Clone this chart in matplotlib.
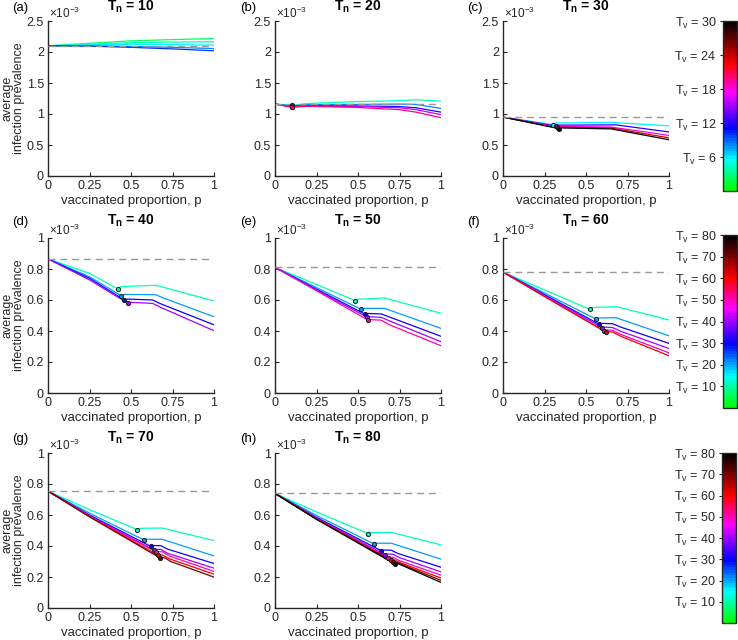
import matplotlib
matplotlib.use("Agg")
import matplotlib.pyplot as plt
from matplotlib.colors import LinearSegmentedColormap, Normalize
from matplotlib.cm import ScalarMappable
from matplotlib.ticker import FuncFormatter

plt.rcParams["font.family"] = ["Liberation Sans", "DejaVu Sans"]
plt.rcParams["mathtext.fontset"] = "custom"
plt.rcParams["mathtext.rm"] = "Liberation Sans"
plt.rcParams["mathtext.it"] = "Liberation Sans:italic"
plt.rcParams["mathtext.bf"] = "Liberation Sans:bold"

# ---- data (prevalence in units of 1e-3) ----
tn_values = [10, 20, 30, 40, 50, 60, 70, 80]
panel_tags = ["(a)", "(b)", "(c)", "(d)", "(e)", "(f)", "(g)", "(h)"]
baseline = [2.10, 1.16, 0.95, 0.865, 0.81, 0.78, 0.754, 0.739]

# (a) Tn = 10
tv_a = [2, 4, 6, 8, 10]
p_a = [[0, 0.25, 0.5, 0.75, 1]] * 5
y_a = [[2.10, 2.14, 2.18, 2.20, 2.217],
       [2.10, 2.125, 2.15, 2.16, 2.165],
       [2.10, 2.115, 2.125, 2.12, 2.11],
       [2.10, 2.10, 2.09, 2.075, 2.056],
       [2.10, 2.095, 2.075, 2.05, 2.02]]
mark_a = []

# (b) Tn = 20
tv_b = [4, 8, 12, 16, 20]
p_b = [[0, 0.1, 0.2, 0.5, 0.75, 0.85, 1]] * 5
y_b = [[1.16, 1.14, 1.17, 1.20, 1.215, 1.23, 1.207],
       [1.16, 1.13, 1.15, 1.155, 1.16, 1.155, 1.09],
       [1.16, 1.12, 1.135, 1.13, 1.12, 1.10, 1.03],
       [1.16, 1.115, 1.13, 1.12, 1.10, 1.07, 0.99],
       [1.16, 1.11, 1.125, 1.105, 1.07, 1.03, 0.94]]
mark_b = [(0.1, 1.14), (0.1, 1.13), (0.1, 1.12), (0.1, 1.115), (0.1, 1.11)]

# (c) Tn = 30
tv_c = [6, 12, 18, 24, 30]
p_c = [[0, 0.30, 0.32, 0.65, 1],
       [0, 0.318, 0.335, 0.68, 1],
       [0, 0.325, 0.34, 0.65, 1],
       [0, 0.33, 0.345, 0.65, 1],
       [0, 0.336, 0.35, 0.65, 1]]
y_c = [[0.95, 0.83, 0.855, 0.865, 0.81],
       [0.95, 0.805, 0.82, 0.825, 0.71],
       [0.95, 0.79, 0.80, 0.79, 0.655],
       [0.95, 0.775, 0.785, 0.775, 0.615],
       [0.95, 0.765, 0.775, 0.76, 0.585]]
mark_c = [(0.30, 0.83), (0.318, 0.805), (0.325, 0.79), (0.33, 0.775), (0.336, 0.765)]

# (d) Tn = 40
tv_d = [10, 20, 30, 40]
p_d = [[0, 0.25, 0.42, 0.44, 0.65, 1],
       [0, 0.25, 0.44, 0.46, 0.65, 0.69, 1],
       [0, 0.25, 0.46, 0.48, 0.63, 0.68, 1],
       [0, 0.25, 0.48, 0.50, 0.63, 0.68, 1]]
y_d = [[0.865, 0.772, 0.672, 0.686, 0.695, 0.594],
       [0.865, 0.75, 0.628, 0.636, 0.634, 0.615, 0.492],
       [0.865, 0.74, 0.600, 0.606, 0.600, 0.575, 0.440],
       [0.865, 0.73, 0.580, 0.585, 0.578, 0.552, 0.402]]
mark_d = [(0.42, 0.672), (0.44, 0.628), (0.46, 0.600), (0.48, 0.580)]

# (e) Tn = 50
tv_e = [10, 20, 30, 40, 50]
p_e = [[0, 0.25, 0.483, 0.50, 0.66, 1],
       [0, 0.25, 0.519, 0.54, 0.66, 1],
       [0, 0.25, 0.543, 0.56, 0.64, 0.69, 1],
       [0, 0.25, 0.557, 0.575, 0.64, 0.69, 1],
       [0, 0.25, 0.563, 0.58, 0.64, 0.69, 1]]
y_e = [[0.81, 0.70, 0.596, 0.605, 0.613, 0.514],
       [0.81, 0.68, 0.540, 0.546, 0.546, 0.417],
       [0.81, 0.67, 0.508, 0.513, 0.510, 0.490, 0.366],
       [0.81, 0.665, 0.488, 0.492, 0.488, 0.465, 0.331],
       [0.81, 0.66, 0.469, 0.473, 0.470, 0.440, 0.305]]
mark_e = [(0.483, 0.596), (0.519, 0.540), (0.543, 0.508), (0.557, 0.488), (0.563, 0.469)]

# (f) Tn = 60
tv_f = [10, 20, 30, 40, 50, 60]
p_f = [[0, 0.25, 0.522, 0.54, 0.685, 1],
       [0, 0.25, 0.56, 0.58, 0.68, 1],
       [0, 0.25, 0.58, 0.60, 0.66, 0.71, 1],
       [0, 0.25, 0.598, 0.615, 0.66, 0.71, 1],
       [0, 0.25, 0.608, 0.625, 0.66, 0.71, 1],
       [0, 0.25, 0.62, 0.635, 0.66, 0.71, 1]]
y_f = [[0.78, 0.665, 0.540, 0.552, 0.557, 0.471],
       [0.78, 0.645, 0.477, 0.484, 0.486, 0.369],
       [0.78, 0.635, 0.443, 0.449, 0.447, 0.425, 0.320],
       [0.78, 0.630, 0.421, 0.425, 0.422, 0.398, 0.287],
       [0.78, 0.625, 0.402, 0.407, 0.404, 0.378, 0.259],
       [0.78, 0.622, 0.393, 0.395, 0.393, 0.366, 0.240]]
mark_f = [(0.522, 0.540), (0.56, 0.477), (0.58, 0.443), (0.598, 0.421),
          (0.608, 0.402), (0.62, 0.393)]

# (g) Tn = 70
tv_g = [10, 20, 30, 40, 50, 60, 70]
p_g = [[0, 0.25, 0.539, 0.555, 0.687, 1],
       [0, 0.25, 0.578, 0.595, 0.69, 1],
       [0, 0.25, 0.618, 0.635, 0.68, 0.72, 1],
       [0, 0.25, 0.636, 0.65, 0.68, 0.72, 1],
       [0, 0.25, 0.65, 0.665, 0.69, 0.73, 1],
       [0, 0.25, 0.663, 0.675, 0.69, 0.73, 1],
       [0, 0.25, 0.675, 0.685, 0.70, 0.74, 1]]
y_g = [[0.754, 0.635, 0.505, 0.514, 0.516, 0.435],
       [0.754, 0.612, 0.439, 0.444, 0.443, 0.336],
       [0.754, 0.600, 0.398, 0.403, 0.402, 0.380, 0.287],
       [0.754, 0.595, 0.375, 0.379, 0.378, 0.353, 0.257],
       [0.754, 0.592, 0.362, 0.364, 0.362, 0.336, 0.236],
       [0.754, 0.590, 0.340, 0.343, 0.342, 0.318, 0.218],
       [0.754, 0.588, 0.323, 0.326, 0.325, 0.300, 0.199]]
mark_g = [(0.539, 0.505), (0.578, 0.439), (0.618, 0.398), (0.636, 0.375),
          (0.65, 0.362), (0.663, 0.340), (0.675, 0.323)]

# (h) Tn = 80
tv_h = [10, 20, 30, 40, 50, 60, 70, 80]
p_h = [[0, 0.25, 0.561, 0.575, 0.70, 1],
       [0, 0.25, 0.597, 0.61, 0.70, 1],
       [0, 0.25, 0.639, 0.655, 0.70, 0.74, 1],
       [0, 0.25, 0.661, 0.675, 0.71, 0.75, 1],
       [0, 0.25, 0.679, 0.69, 0.71, 0.75, 1],
       [0, 0.25, 0.699, 0.71, 0.72, 0.76, 1],
       [0, 0.25, 0.713, 0.72, 0.73, 0.77, 1],
       [0, 0.25, 0.72, 0.73, 0.74, 0.78, 1]]
y_h = [[0.739, 0.620, 0.480, 0.487, 0.488, 0.407],
       [0.739, 0.597, 0.413, 0.418, 0.418, 0.315],
       [0.739, 0.585, 0.370, 0.374, 0.373, 0.352, 0.263],
       [0.739, 0.580, 0.345, 0.348, 0.347, 0.325, 0.233],
       [0.739, 0.577, 0.325, 0.328, 0.327, 0.305, 0.212],
       [0.739, 0.575, 0.308, 0.310, 0.309, 0.290, 0.193],
       [0.739, 0.573, 0.296, 0.297, 0.296, 0.278, 0.178],
       [0.739, 0.572, 0.285, 0.287, 0.286, 0.268, 0.165]]
mark_h = [(0.561, 0.480), (0.597, 0.413), (0.639, 0.370), (0.661, 0.345),
          (0.679, 0.325), (0.699, 0.308), (0.713, 0.296), (0.72, 0.285)]

all_tv = [tv_a, tv_b, tv_c, tv_d, tv_e, tv_f, tv_g, tv_h]
all_p = [p_a, p_b, p_c, p_d, p_e, p_f, p_g, p_h]
all_y = [y_a, y_b, y_c, y_d, y_e, y_f, y_g, y_h]
all_marks = [mark_a, mark_b, mark_c, mark_d, mark_e, mark_f, mark_g, mark_h]

row_ylim = [2.5, 1.0, 1.0]
row_yticks = [[0, 0.5, 1, 1.5, 2, 2.5], [0, 0.2, 0.4, 0.6, 0.8, 1], [0, 0.2, 0.4, 0.6, 0.8, 1]]
row_tvmax = [30, 80, 80]
cbar_ticks = [[6, 12, 18, 24, 30], [10, 20, 30, 40, 50, 60, 70, 80], [10, 20, 30, 40, 50, 60, 70, 80]]

# colormap green -> cyan -> blue -> magenta -> red -> black
cmap = LinearSegmentedColormap.from_list(
    "gcbmrk",
    [(0.0, (0, 1, 0)), (0.18, (0, 1, 1)), (0.37, (0, 0, 1)),
     (0.58, (1, 0, 1)), (0.75, (1, 0, 0)), (1.0, (0, 0, 0))], N=64)

# ---- layout in pixels ----
W, H = 738, 640
col_x = [48, 275, 503]
ax_w, ax_h = 166, 155
row_top = [21, 238, 453]
title_base = [11, 225, 442]
tag_x = [12, 240, 467]
cbar_box = [(723, 21, 14, 170), (723, 235, 14, 173), (722, 453, 14, 170)]
axis_col = "#262626"


def box(x, y, w, h):
    return [x / W, 1 - (y + h) / H, w / W, h / H]


fig = plt.figure(figsize=(W / 100, H / 100), dpi=100)
fmt = FuncFormatter(lambda v, pos: "%g" % v)

for i, tn in enumerate(tn_values):
    r, c = divmod(i, 3)
    ax = fig.add_axes(box(col_x[c], row_top[r], ax_w, ax_h))
    norm = Normalize(0, row_tvmax[r])
    for tv, pp, yy in zip(all_tv[i], all_p[i], all_y[i]):
        ax.plot(pp, yy, color=cmap(norm(tv)), lw=0.9, zorder=2)
    for tv, (mp, my) in zip(all_tv[i], all_marks[i]):
        ax.plot(mp, my, "o", ms=3.0, mfc=cmap(norm(tv)), mec="#1a1a1a", mew=0.7, zorder=4)
    ax.axhline(baseline[i], color="#999999", lw=1, ls=(0, (5, 3.5)), zorder=3)

    ax.set_xlim(0, 1)
    ax.set_ylim(0, row_ylim[r])
    ax.set_xticks([0, 0.25, 0.5, 0.75, 1])
    ax.set_yticks(row_yticks[r])
    ax.xaxis.set_major_formatter(fmt)
    ax.yaxis.set_major_formatter(fmt)
    for s in ["top", "right"]:
        ax.spines[s].set_visible(False)
    for s in ["left", "bottom"]:
        ax.spines[s].set_color(axis_col)
        ax.spines[s].set_linewidth(1)
    ax.tick_params(direction="in", length=3, width=0.8, colors=axis_col,
                   labelsize=9, pad=3)
    ax.set_xlabel("vaccinated proportion, p", fontsize=9.5, color=axis_col, labelpad=2)
    if c == 0:
        ax.set_ylabel("average\ninfection prevalence", fontsize=9, color=axis_col,
                      linespacing=0.95)
        ax.yaxis.set_label_coords(-0.14, 0.5)
    ax.text(0.005, 1.0, r"$\times10^{-3}$", transform=ax.transAxes, fontsize=8.5,
            color=axis_col, ha="left", va="bottom")

    cx = (col_x[c] + ax_w / 2) / W
    fig.text(cx, 1 - title_base[r] / H, r"$\mathbf{T_n}$ = %d" % tn,
             fontsize=10, fontweight="bold", ha="center", va="baseline")
    fig.text(tag_x[c] / W, 1 - title_base[r] / H, panel_tags[i], fontsize=9.5,
             ha="left", va="baseline")

# colorbars
for r in range(3):
    cax = fig.add_axes(box(*cbar_box[r]))
    sm = ScalarMappable(norm=Normalize(0, row_tvmax[r]), cmap=cmap)
    cb = fig.colorbar(sm, cax=cax)
    cb.set_ticks(cbar_ticks[r])
    cb.set_ticklabels([r"T$_\mathrm{v}$ = %d" % t for t in cbar_ticks[r]])
    cax.yaxis.set_ticks_position("left")
    cax.tick_params(direction="out", length=2.5, width=0.8, colors=axis_col,
                    labelsize=9, pad=2)
    cb.outline.set_edgecolor(axis_col)
    cb.outline.set_linewidth(1)

fig.savefig("out.png", dpi=100)
